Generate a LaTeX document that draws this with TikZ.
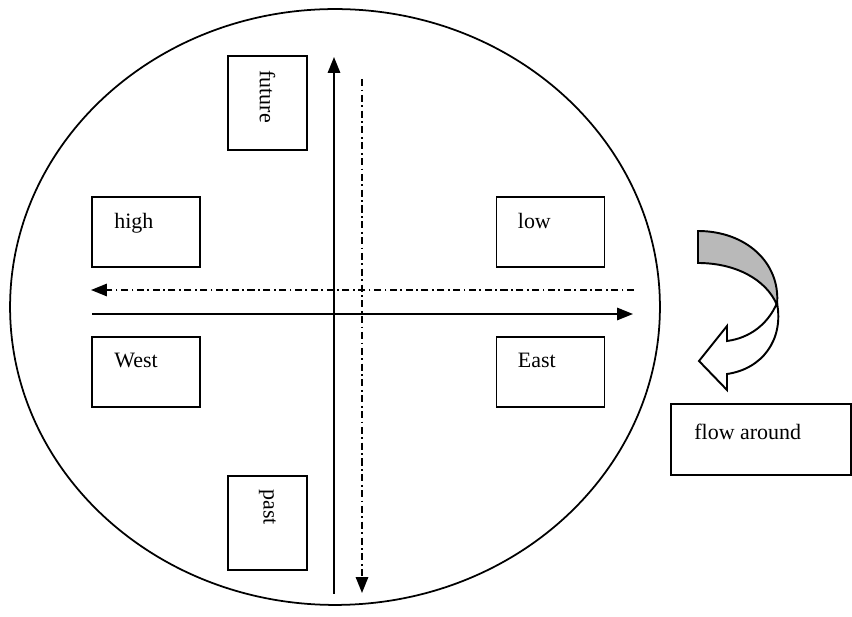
\documentclass[tikz,border=0pt]{standalone}
\usepackage{fontspec}
\setmainfont{Liberation Serif}
\usetikzlibrary{positioning,arrows.meta,shapes.geometric}

\begin{document}
\begin{tikzpicture}[
				x=0.02cm, y=-0.02cm,
				every node/.style={font=\fontsize{12.5}{15}\selectfont},
				box/.style={rectangle, draw=black, line width=1.1pt, inner sep=0pt},
				tag/.style={inner sep=0pt},
				axis/.style={line width=1pt, -{Triangle[length=9pt,width=7pt]}},
				dashdot/.style={axis, dash pattern=on 4pt off 2pt on 1pt off 2pt}
			]
			\useasboundingbox (0,0) rectangle (852,617);

			\node[draw, ellipse, line width=1pt, minimum width=13cm, minimum height=11.92cm] (world) at (335,307) {};

			\node[box, minimum width=1.58cm, minimum height=1.88cm] (future) at (267.5,103) {};
			\node[box, minimum width=2.16cm, minimum height=1.4cm] (high) at (146,232) {};
			\node[box, minimum width=2.16cm, minimum height=1.4cm] (low) at (550.5,232) {};
			\node[box, minimum width=2.16cm, minimum height=1.4cm] (west) at (146,372) {};
			\node[box, minimum width=2.16cm, minimum height=1.4cm] (east) at (550.5,372) {};
			\node[box, minimum width=1.58cm, minimum height=1.88cm] (past) at (267.5,523) {};
			\node[box, minimum width=3.6cm, minimum height=1.42cm] (flow) at (761,439.5) {};

			\node[tag, rotate=-90, anchor=west] at ([yshift=-0.3cm]future.north) {future};
			\node[tag, rotate=-90, anchor=west] at ([yshift=-0.28cm]past.north) {past};
			\node[tag, anchor=north west] at ([shift={(0.46cm,-0.34cm)}]high.north west) {high};
			\node[tag, anchor=north west] at ([shift={(0.44cm,-0.34cm)}]low.north west) {low};
			\node[tag, anchor=north west] at ([shift={(0.46cm,-0.34cm)}]west.north west) {West};
			\node[tag, anchor=north west] at ([shift={(0.44cm,-0.34cm)}]east.north west) {East};
			\node[tag, anchor=north west] at ([shift={(0.48cm,-0.42cm)}]flow.north west) {flow around};

			\coordinate (up start) at (334,594);
			\coordinate (up end) at (334,57);
			\coordinate (down start) at (362,79);
			\coordinate (down end) at (362,593);
			\coordinate (left start) at (634,290);
			\coordinate (left end) at (91,290);
			\coordinate (right start) at (92,314);
			\coordinate (right end) at (633,314);

			\draw[axis] (up start) -- (up end);
			\draw[dashdot] (down start) -- (down end);
			\draw[dashdot] (left start) -- (left end);
			\draw[axis] (right start) -- (right end);

			% turning arrow beside the circle
			\draw[line width=1.1pt, fill=white] (777,303) .. controls (768,324) and (750,338) .. (727,341)
				-- (727,326) -- (699,361) -- (727,390) -- (727,374)
				.. controls (762,369) and (784,340) .. (777,303) -- cycle;
			\draw[line width=1.1pt, fill=gray!55] (698,231) -- (698,263)
				.. controls (735,263) and (766,279) .. (777,305)
				.. controls (781,262) and (745,231) .. (698,231) -- cycle;

		\end{tikzpicture}
\end{document}
